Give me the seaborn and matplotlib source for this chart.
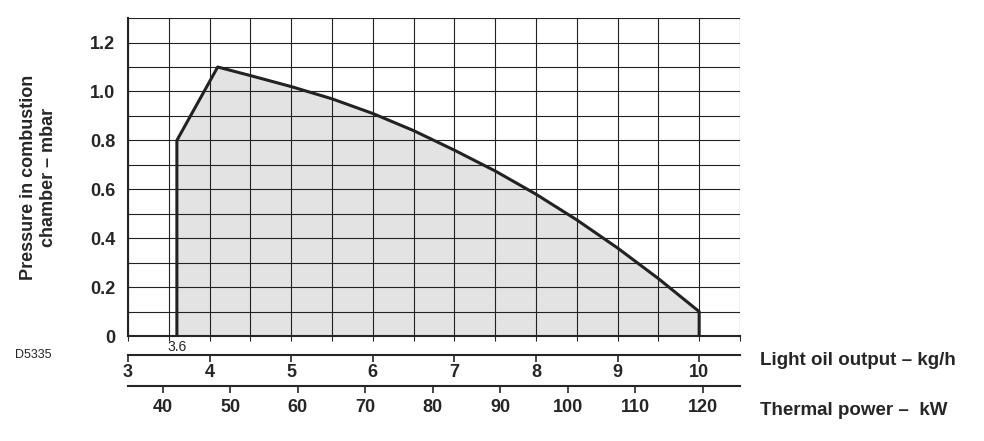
import matplotlib
matplotlib.use("Agg")
import matplotlib.pyplot as plt
import seaborn as sns
import numpy as np
import pandas as pd
from matplotlib.ticker import MultipleLocator

# working field outline (kg/h, mbar)
oil_kgh = [3.6, 3.6, 4.1, 4.5, 5.0, 5.5, 6.0, 6.5, 7.0, 7.5, 8.0, 8.5, 9.0, 9.5, 10.0, 10.0]
pressure = [0.0, 0.8, 1.1, 1.065, 1.02, 0.97, 0.91, 0.84, 0.76, 0.675, 0.58, 0.475, 0.36, 0.235, 0.1, 0.0]
y_ticks = [0, 0.2, 0.4, 0.6, 0.8, 1.0, 1.2]
y_labels = ["0", "0.2", "0.4", "0.6", "0.8", "1.0", "1.2"]
kg_ticks = [3, 4, 5, 6, 7, 8, 9, 10]
kw_ticks = [40, 50, 60, 70, 80, 90, 100, 110, 120]

def kw_to_kg(kw):
    return (kw + 1.5) / 12.1

sns.set_style("white")
plt.rcParams['font.family'] = ['Arial', 'Liberation Sans', 'DejaVu Sans']

fig = plt.figure(figsize=(9.84, 4.41), dpi=100)
ax = fig.add_axes([0.130, 0.238, 0.622, 0.721])

df = pd.DataFrame({'kgh': oil_kgh, 'p': pressure})
ax.fill(df['kgh'], df['p'], color='#e3e3e3', zorder=1)
sns.lineplot(data=df, x='kgh', y='p', sort=False, estimator=None, color='#222222',
             lw=2.2, ax=ax, zorder=3)

ax.set_xlim(3, 10.5)
ax.set_ylim(0, 1.3)
ax.xaxis.set_major_locator(MultipleLocator(0.5))
ax.grid(True, color='#222222', lw=0.8)
ax.set_axisbelow(False)
ax.tick_params(axis='x', bottom=False, labelbottom=False)
yt = np.arange(0, 1.31, 0.1)
ax.set_yticks(yt)
ax.set_yticklabels([y_labels[y_ticks.index(round(v, 1))] if round(v, 1) in y_ticks else "" for v in yt],
                   fontsize=13, fontweight='bold')
ax.tick_params(axis='y', length=5, width=1, pad=4)
ax.set_xlabel("")
ax.set_ylabel("Pressure in combustion\nchamber – mbar", fontsize=13, fontweight='bold', labelpad=24)
for s in ['top', 'right']:
    ax.spines[s].set_visible(False)
ax.spines['left'].set_linewidth(1.5)
ax.spines['bottom'].set_linewidth(1.5)
ax.text(3.6, -0.015, "3.6", ha='center', va='top', fontsize=10)

# kg/h axis
ax2 = ax.twiny()
ax2.set_xlim(3, 10.5)
ax2.xaxis.set_ticks_position('bottom')
ax2.spines['bottom'].set_position(('outward', 14))
for s in ['top', 'right', 'left']:
    ax2.spines[s].set_visible(False)
ax2.spines['bottom'].set_linewidth(1.5)
ax2.set_xticks(kg_ticks)
ax2.set_xticklabels([str(v) for v in kg_ticks], fontsize=13, fontweight='bold')
ax2.tick_params(axis='x', direction='out', length=5, width=1.2, pad=1)
ax2.grid(False)

# kW axis
ax3 = ax.twiny()
ax3.set_xlim(3, 10.5)
ax3.xaxis.set_ticks_position('bottom')
ax3.spines['bottom'].set_position(('outward', 36))
for s in ['top', 'right', 'left']:
    ax3.spines[s].set_visible(False)
ax3.spines['bottom'].set_linewidth(1.5)
ax3.set_xticks([kw_to_kg(k) for k in kw_ticks])
ax3.set_xticklabels([str(k) for k in kw_ticks], fontsize=13, fontweight='bold')
ax3.tick_params(axis='x', direction='out', length=5, width=1.2, pad=4)
ax3.grid(False)

fig.text(0.772, 0.183, "Light oil output – kg/h", fontsize=13.5, fontweight='bold', va='center')
fig.text(0.772, 0.070, "Thermal power –  kW", fontsize=13.5, fontweight='bold', va='center')
fig.text(0.015, 0.195, "D5335", fontsize=9, va='center')

fig.savefig("out.png", dpi=100)
